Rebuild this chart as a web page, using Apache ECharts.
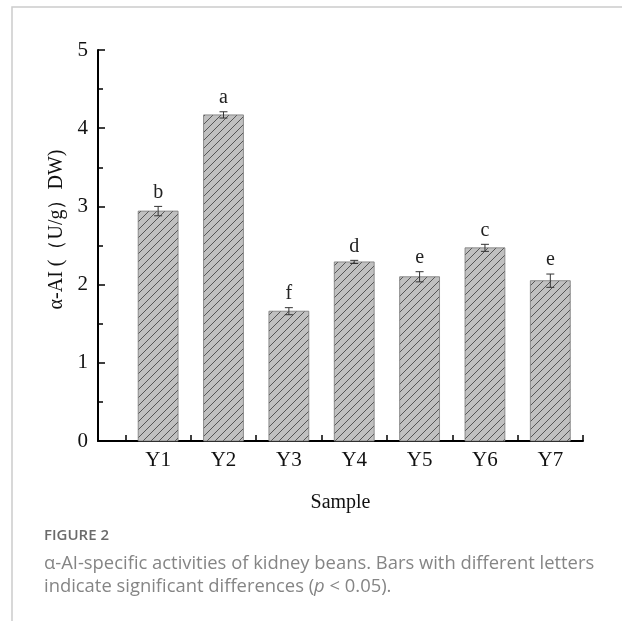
<!DOCTYPE html>
<html>
<head>
<meta charset="utf-8">
<script src="https://cdn.jsdelivr.net/npm/echarts@6/dist/echarts.min.js"></script>
<style>
  html, body { margin: 0; padding: 0; background: #fff; }
  #main { width: 622px; height: 621px; }
</style>
</head>
<body>
<div id="main"></div>
<script>
// data
const samples = ["Y1", "Y2", "Y3", "Y4", "Y5", "Y6", "Y7"];
const means = [2.94, 4.17, 1.66, 2.29, 2.10, 2.47, 2.05];
const errors = [0.06, 0.04, 0.045, 0.02, 0.065, 0.045, 0.085];
const letters = ["b", "a", "f", "d", "e", "c", "e"];
const xTicks = [0.5, 1, 1.5, 2, 2.5, 3, 3.5, 4, 4.5, 5, 5.5, 6, 6.5, 7, 7.5];
const xLabels = [1, 2, 3, 4, 5, 6, 7];

const chart = echarts.init(document.getElementById("main"));

// hatch tile for the bars
const tile = document.createElement("canvas");
tile.width = 8;
tile.height = 8;
const ctx = tile.getContext("2d");
ctx.fillStyle = "#c0c0c0";
ctx.fillRect(0, 0, 8, 8);
ctx.strokeStyle = "#3a3a3a";
ctx.lineWidth = 0.8;
ctx.beginPath();
ctx.moveTo(0, 8); ctx.lineTo(8, 0);
ctx.moveTo(-1, 1); ctx.lineTo(1, -1);
ctx.moveTo(7, 9); ctx.lineTo(9, 7);
ctx.stroke();

const seriesData = samples.map((s, i) => [i + 1, means[i], errors[i], letters[i]]);

const serif = "Liberation Serif";

function renderBar(params, api) {
  const x = api.value(0);
  const v = api.value(1);
  const e = api.value(2);
  const letter = seriesData[params.dataIndex][3];
  const base = api.coord([x, 0]);
  const top = api.coord([x, v]);
  const hi = api.coord([x, v + e]);
  const lo = api.coord([x, v - e]);
  const w = api.size([0.61, 0])[0];
  const cap = 4;
  return {
    type: "group",
    children: [
      {
        type: "rect",
        shape: { x: base[0] - w / 2, y: top[1], width: w, height: base[1] - top[1] },
        style: { fill: { image: tile, repeat: "repeat" }, stroke: "#777", lineWidth: 0.8 }
      },
      {
        type: "line",
        shape: { x1: hi[0], y1: hi[1], x2: lo[0], y2: lo[1] },
        style: { stroke: "#333", lineWidth: 1 }
      },
      {
        type: "line",
        shape: { x1: hi[0] - cap, y1: hi[1], x2: hi[0] + cap, y2: hi[1] },
        style: { stroke: "#333", lineWidth: 1 }
      },
      {
        type: "line",
        shape: { x1: lo[0] - cap, y1: lo[1], x2: lo[0] + cap, y2: lo[1] },
        style: { stroke: "#333", lineWidth: 1 }
      },
      {
        type: "text",
        x: hi[0],
        y: hi[1] - 4,
        style: {
          text: letter,
          fill: "#222",
          font: "20px '" + serif + "'",
          align: "center",
          verticalAlign: "bottom"
        }
      }
    ]
  };
}

const option = {
  animation: false,
  backgroundColor: "#fff",
  grid: { left: 98, right: 39, top: 50, bottom: 180 },
  xAxis: {
    type: "value",
    min: 0.08,
    max: 7.5,
    name: "Sample",
    nameLocation: "middle",
    nameGap: 52,
    nameTextStyle: { fontFamily: serif, fontSize: 20, color: "#111" },
    axisLine: { lineStyle: { color: "#000", width: 2 } },
    axisTick: { inside: true, length: 6, customValues: xTicks, lineStyle: { color: "#000", width: 1.5 } },
    axisLabel: {
      customValues: xLabels,
      formatter: (v) => samples[v - 1],
      fontFamily: serif,
      fontSize: 21,
      color: "#111",
      margin: 9
    },
    splitLine: { show: false }
  },
  yAxis: {
    type: "value",
    min: 0,
    max: 5,
    interval: 1,
    name: "α-AI (（U/g）DW)",
    nameLocation: "middle",
    nameGap: 30,
    nameTextStyle: { fontFamily: serif, fontSize: 20, color: "#111", padding: [0, 0, 0, 32] },
    axisLine: { show: true, lineStyle: { color: "#000", width: 2 } },
    axisTick: { inside: true, length: 7, lineStyle: { color: "#000", width: 1.5 } },
    minorTick: { show: true, splitNumber: 2, length: 5, lineStyle: { color: "#000", width: 1.5 } },
    axisLabel: { fontFamily: serif, fontSize: 21, color: "#111", margin: 10 },
    splitLine: { show: false }
  },
  series: [
    {
      type: "custom",
      renderItem: renderBar,
      data: seriesData,
      encode: { x: 0, y: 1 }
    }
  ],
  graphic: [
    {
      type: "polyline",
      shape: { points: [[12, 621], [12, 7], [622, 7]] },
      style: { stroke: "#cccccc", lineWidth: 1.5, fill: null }
    },
    {
      type: "text",
      left: 44,
      top: 528,
      style: { text: "FIGURE 2", font: "600 15px 'Open Sans'", fill: "#6b6b6b" }
    },
    {
      type: "text",
      left: 44,
      top: 552,
      style: {
        text: "α-AI-specific activities of kidney beans. Bars with different letters\nindicate significant differences ({i|p} < 0.05).",
        font: "18.4px 'Open Sans'",
        lineHeight: 23,
        fill: "#858585",
        rich: {
          i: { font: "italic 18.4px 'Open Sans'", fill: "#858585", lineHeight: 23 }
        }
      }
    }
  ]
};

chart.setOption(option);
</script>
</body>
</html>
